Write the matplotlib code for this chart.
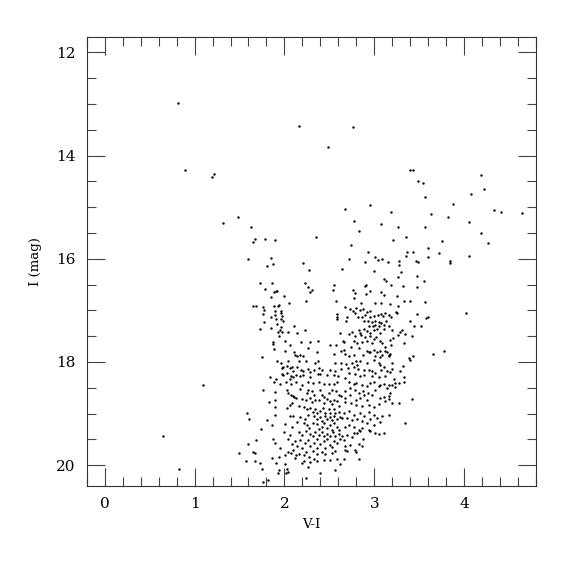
import numpy as np
import matplotlib
matplotlib.use("Agg")
import matplotlib.pyplot as plt
from matplotlib.ticker import MultipleLocator

# (V-I, I) pairs, grouped by region of the CMD
bright_and_outliers = [
    (0.82, 12.98), (0.89, 14.29), (1.19, 14.41), (1.22, 14.35), (1.32, 15.31), (1.48, 15.20),
    (1.63, 15.39), (1.65, 15.67), (1.67, 15.62), (1.78, 15.61), (1.90, 15.64), (1.60, 16.01),
    (2.16, 13.42), (2.76, 13.44), (2.48, 13.83), (2.35, 15.57), (1.09, 18.45), (0.65, 19.43),
    (0.83, 20.07), (1.85, 15.99), (1.87, 16.10), (1.81, 16.15), (2.21, 16.08), (2.27, 16.21),
    (2.64, 16.19),
]
upper_red = [
    (3.40, 14.29), (3.43, 14.28), (3.49, 14.49), (3.54, 14.54), (3.56, 14.81), (3.63, 15.13),
    (3.56, 15.38), (2.95, 14.95), (2.68, 15.04), (2.78, 15.26), (2.83, 15.46), (3.08, 15.33),
    (3.19, 15.09), (3.27, 15.38), (3.35, 15.57), (3.21, 15.64), (2.74, 15.74), (2.72, 16.00),
    (2.93, 15.87), (2.90, 16.07), (3.01, 15.97), (3.04, 16.03), (3.00, 16.23), (3.09, 16.01),
    (3.15, 16.07), (3.28, 16.05), (3.28, 16.12), (3.35, 15.94), (3.37, 15.87), (3.43, 15.86),
    (3.46, 16.05), (3.49, 16.06), (3.60, 15.80), (3.60, 15.96), (3.75, 15.66), (3.72, 15.89),
    (3.82, 15.20), (3.88, 14.93), (3.84, 16.05), (3.84, 16.08), (4.05, 15.28), (4.08, 14.75),
    (4.19, 14.37), (4.22, 14.65), (4.19, 15.50), (4.27, 15.69), (4.06, 15.94), (4.33, 15.06),
    (4.41, 15.09), (4.64, 15.11), (4.02, 17.06), (3.78, 17.78), (3.65, 17.85), (3.30, 16.26),
    (3.27, 16.35), (3.11, 16.40), (3.57, 16.84), (3.58, 17.15), (3.60, 17.13), (3.52, 17.31),
    (3.48, 16.33), (3.55, 16.44),
]
blue_branch = [
    (1.729, 16.47), (1.867, 16.47), (2.231, 16.47), (2.268, 16.55), (2.305, 16.60), (2.287, 16.65),
    (1.785, 16.59), (1.885, 16.65), (1.908, 16.63), (1.922, 16.63), (2.000, 16.73), (1.848, 16.74),
    (2.238, 16.81), (2.052, 16.86), (1.647, 16.92), (1.681, 16.91), (1.766, 16.94), (1.777, 17.00),
    (1.889, 16.91), (1.926, 16.92), (1.945, 16.90), (1.960, 17.01), (1.960, 17.05), (1.897, 17.02),
    (1.897, 17.09), (1.766, 17.07), (1.971, 17.10), (1.848, 17.12), (1.908, 17.16), (1.963, 17.16),
    (1.982, 17.20), (1.774, 17.23), (1.922, 17.27), (1.963, 17.32), (1.952, 17.38), (1.971, 17.41),
    (1.729, 17.36), (1.852, 17.34), (1.926, 17.41), (2.045, 17.41), (2.108, 17.31), (2.138, 17.43),
    (2.224, 17.38), (1.945, 17.50), (2.008, 17.59), (1.870, 17.61), (1.878, 17.65), (1.885, 17.74),
    (2.064, 17.67), (2.183, 17.61), (2.287, 17.61), (2.372, 17.60), (2.012, 17.78), (2.108, 17.81),
    (2.119, 17.86), (2.138, 17.88), (2.168, 17.86), (2.268, 17.73), (2.361, 17.80), (1.755, 17.90),
    (2.212, 17.89), (2.242, 17.98), (1.922, 17.98), (1.960, 18.01), (2.045, 17.99), (2.157, 17.99),
    (2.335, 18.02), (2.369, 17.99), (1.989, 18.10), (1.971, 18.11), (2.026, 18.07), (2.064, 18.12),
    (2.093, 18.18), (2.082, 18.10), (2.145, 18.10), (2.183, 18.15), (2.212, 18.18), (2.257, 18.14),
    (2.287, 18.20), (2.324, 18.16), (2.387, 18.12), (1.971, 18.23), (1.982, 18.25), (2.026, 18.21),
    (2.071, 18.28), (2.101, 18.29), (1.908, 18.32), (1.841, 18.30), (2.064, 18.32), (2.212, 18.25),
    (2.287, 18.29), (2.369, 18.23), (2.131, 18.25), (2.175, 18.27),
]
red_giant_branch = [
    (2.547, 16.50), (2.536, 16.60), (2.892, 16.52), (2.907, 16.51), (3.134, 16.43), (3.186, 16.50),
    (3.316, 16.52), (3.476, 16.54), (2.759, 16.61), (2.788, 16.67), (2.911, 16.68), (3.078, 16.65),
    (3.104, 16.70), (2.948, 16.63), (2.576, 16.81), (3.253, 16.72), (3.327, 16.81), (3.402, 16.81),
    (2.770, 16.76), (3.011, 16.86), (3.075, 16.85), (3.171, 16.87), (3.260, 16.91), (2.677, 16.94),
    (2.733, 16.98), (2.762, 17.02), (2.799, 16.96), (2.837, 17.00), (2.874, 16.98), (2.852, 16.85),
    (2.900, 17.09), (2.918, 17.03), (2.956, 17.02), (2.788, 17.05), (2.814, 17.12), (2.863, 17.13),
    (2.591, 17.07), (2.584, 17.13), (2.584, 17.17), (2.695, 17.13), (2.688, 17.20), (2.956, 17.13),
    (2.993, 17.10), (3.037, 17.09), (3.078, 17.07), (3.097, 17.10), (3.123, 17.05), (3.160, 17.09),
    (3.186, 17.13), (3.246, 17.04), (3.253, 17.05), (3.476, 17.07), (3.402, 17.20), (2.881, 17.21),
    (2.926, 17.20), (2.974, 17.23), (3.004, 17.21), (3.049, 17.23), (3.075, 17.25), (3.104, 17.28),
    (3.134, 17.20), (2.937, 17.31), (2.985, 17.30), (3.011, 17.28), (3.049, 17.31), (3.030, 17.36),
    (2.826, 17.38), (2.844, 17.43), (2.881, 17.36), (2.918, 17.39), (2.948, 17.43), (2.993, 17.38),
    (3.060, 17.44), (3.112, 17.36), (3.160, 17.31), (3.197, 17.38), (3.290, 17.41), (3.309, 17.38),
    (3.346, 17.45), (3.420, 17.49), (3.446, 17.31), (2.621, 17.43), (2.714, 17.45), (2.751, 17.41),
    (2.781, 17.50), (2.855, 17.47), (2.900, 17.52), (2.956, 17.50), (2.993, 17.56), (3.023, 17.52),
    (3.067, 17.60), (3.086, 17.63), (3.179, 17.57), (3.208, 17.54), (3.260, 17.47), (2.651, 17.60),
    (2.666, 17.62), (2.770, 17.60), (2.807, 17.63), (2.863, 17.62), (2.918, 17.60), (2.974, 17.63),
    (3.123, 17.70), (3.190, 17.67), (3.327, 17.63), (2.510, 17.67), (2.576, 17.67), (2.628, 17.78),
    (2.666, 17.76), (2.740, 17.70), (2.826, 17.73), (2.918, 17.78), (2.937, 17.81), (2.956, 17.80),
    (2.993, 17.76), (3.030, 17.81), (3.067, 17.78), (3.123, 17.78), (3.142, 17.81), (3.160, 17.86),
    (3.179, 17.84), (3.383, 17.92), (3.394, 17.96), (3.432, 17.89), (2.547, 17.84), (2.677, 17.84),
    (2.714, 17.88), (2.770, 17.86), (2.874, 17.86), (3.011, 17.88), (3.067, 17.90), (3.086, 17.86),
    (3.160, 17.89), (2.565, 18.01), (2.632, 18.02), (2.688, 18.03), (2.751, 18.01), (2.799, 17.98),
    (2.807, 18.05), (2.837, 17.99), (2.918, 18.01), (2.993, 17.97), (3.049, 18.02), (3.067, 18.05),
    (3.112, 18.09), (3.197, 18.01), (3.197, 18.14), (3.320, 18.07), (2.417, 18.15), (2.510, 18.16),
    (2.565, 18.18), (2.628, 18.14), (2.703, 18.12), (2.770, 18.10), (2.814, 18.14), (2.881, 18.15),
    (2.937, 18.15), (2.974, 18.18), (3.011, 18.21), (3.078, 18.15), (3.142, 18.18), (3.179, 18.20),
    (3.290, 18.18), (2.398, 18.23), (2.472, 18.25), (2.547, 18.25), (2.602, 18.28), (2.677, 18.31),
    (2.714, 18.21), (2.788, 18.23), (2.844, 18.28), (2.881, 18.25), (2.974, 18.28), (3.049, 18.29),
    (3.123, 18.27), (3.216, 18.33), (3.327, 18.29),
]
faint_blue_edge = [
    (1.766, 18.54), (1.833, 18.78), (1.580, 18.98), (1.610, 19.10), (1.811, 19.13), (1.737, 19.30),
    (1.684, 19.51), (1.592, 19.58), (1.655, 19.75), (1.673, 19.76), (1.495, 19.76), (1.573, 19.92),
    (1.673, 19.91), (1.729, 19.96), (1.755, 20.07), (1.759, 20.33), (1.822, 20.28),
]
faint_core = [
    (1.889, 18.39), (1.952, 18.42), (2.016, 18.38), (2.071, 18.42), (2.131, 18.39), (2.194, 18.44),
    (2.257, 18.38), (2.317, 18.41), (2.380, 18.39), (2.436, 18.42), (2.491, 18.42), (2.547, 18.42),
    (2.584, 18.39), (1.897, 18.59), (2.027, 18.54), (2.045, 18.61), (2.071, 18.63), (2.094, 18.65),
    (2.109, 18.67), (2.131, 18.70), (2.175, 18.52), (2.250, 18.61), (2.268, 18.54), (2.306, 18.57),
    (2.324, 18.63), (2.391, 18.55), (2.417, 18.63), (2.436, 18.67), (2.491, 18.60), (2.528, 18.54),
    (2.577, 18.57), (2.603, 18.63), (1.897, 18.73), (2.064, 18.83), (2.083, 18.79), (2.194, 18.72),
    (2.242, 18.74), (2.287, 18.70), (2.306, 18.78), (2.343, 18.73), (2.380, 18.74), (2.436, 18.79),
    (2.473, 18.72), (2.502, 18.76), (2.528, 18.81), (2.547, 18.73), (2.584, 18.76), (2.603, 18.85),
    (1.897, 18.87), (2.027, 18.89), (2.157, 18.86), (2.213, 18.87), (2.250, 18.92), (2.287, 18.89),
    (2.317, 18.96), (2.343, 18.91), (2.361, 18.99), (2.398, 18.94), (2.428, 18.89), (2.454, 18.98),
    (2.491, 18.92), (2.510, 18.99), (2.547, 18.91), (2.566, 18.98), (2.603, 18.96), (1.897, 19.02),
    (2.057, 19.05), (2.101, 19.04), (2.175, 19.07), (2.231, 19.10), (2.268, 19.02), (2.324, 19.05),
    (2.361, 19.10), (2.398, 19.07), (2.417, 19.15), (2.454, 19.04), (2.473, 19.10), (2.502, 19.07),
    (2.528, 19.13), (2.554, 19.04), (2.584, 19.10), (2.614, 19.07), (1.860, 19.23), (2.008, 19.21),
    (2.083, 19.25), (2.138, 19.17), (2.213, 19.19), (2.250, 19.23), (2.279, 19.28), (2.317, 19.19),
    (2.361, 19.21), (2.380, 19.30), (2.417, 19.25), (2.436, 19.19), (2.473, 19.28), (2.502, 19.23),
    (2.528, 19.31), (2.554, 19.19), (2.584, 19.25), (2.603, 19.31), (1.990, 19.36), (2.064, 19.41),
    (2.157, 19.36), (2.194, 19.41), (2.242, 19.34), (2.287, 19.39), (2.317, 19.44), (2.343, 19.36),
    (2.380, 19.41), (2.417, 19.36), (2.443, 19.44), (2.473, 19.39), (2.510, 19.43), (2.540, 19.36),
    (2.566, 19.44), (2.603, 19.39), (1.878, 19.50), (1.897, 19.57), (2.045, 19.50), (2.083, 19.58),
    (2.120, 19.54), (2.175, 19.52), (2.231, 19.57), (2.268, 19.52), (2.324, 19.56), (2.361, 19.50),
    (2.398, 19.58), (2.436, 19.54), (2.473, 19.50), (2.502, 19.60), (2.547, 19.54), (2.584, 19.57),
    (2.614, 19.50), (1.952, 19.67), (2.138, 19.63), (2.194, 19.67), (2.287, 19.63), (2.361, 19.67),
    (2.454, 19.67), (2.528, 19.65), (1.860, 19.86), (1.945, 19.84), (2.008, 19.81), (2.045, 19.75),
    (2.071, 19.76), (2.101, 19.71), (2.131, 19.80), (2.157, 19.78), (2.213, 19.80), (2.242, 19.75),
    (2.279, 19.84), (2.317, 19.73), (2.361, 19.78), (2.417, 19.75), (2.454, 19.78), (2.528, 19.76),
    (2.566, 19.73), (1.908, 19.96), (2.008, 19.97), (2.120, 19.86), (2.213, 19.92), (2.194, 19.96),
    (2.287, 19.94), (2.324, 19.88), (2.361, 19.92), (2.436, 19.89), (2.510, 19.89), (2.584, 19.88),
    (2.614, 19.97), (1.945, 20.09), (1.923, 20.15), (2.027, 20.07), (2.019, 20.15), (2.045, 20.14),
    (2.268, 20.03), (2.391, 20.15), (2.566, 20.10), (2.242, 20.25),
]
faint_red = [
    (2.714, 18.38), (2.770, 18.42), (2.799, 18.40), (2.863, 18.44), (2.918, 18.46), (2.956, 18.41),
    (2.993, 18.38), (3.067, 18.44), (3.112, 18.42), (3.160, 18.44), (3.197, 18.44), (3.234, 18.40),
    (3.272, 18.41), (3.327, 18.38), (2.677, 18.57), (2.733, 18.51), (2.788, 18.54), (2.826, 18.60),
    (2.874, 18.57), (2.926, 18.60), (2.974, 18.63), (3.011, 18.54), (3.049, 18.47), (3.142, 18.51),
    (3.179, 18.60), (3.234, 18.49), (2.628, 18.65), (2.677, 18.70), (2.733, 18.63), (2.799, 18.73),
    (2.844, 18.70), (2.881, 18.63), (2.918, 18.74), (3.067, 18.70), (3.104, 18.68), (3.160, 18.72),
    (3.197, 18.80), (3.272, 18.80), (3.420, 18.72), (2.677, 18.78), (2.740, 18.80), (2.799, 18.83),
    (2.863, 18.85), (2.937, 18.83), (3.000, 18.87), (3.049, 18.81), (3.123, 18.76), (2.658, 18.99),
    (2.714, 18.94), (2.770, 19.02), (2.844, 18.99), (2.881, 19.04), (2.937, 18.96), (2.993, 19.02),
    (3.030, 19.09), (3.086, 19.05), (3.160, 19.02), (2.640, 19.09), (2.695, 19.09), (2.751, 19.12),
    (2.807, 19.11), (2.863, 19.15), (2.918, 19.18), (2.956, 19.11), (2.993, 19.22), (3.067, 19.17),
    (2.677, 19.26), (2.714, 19.22), (2.770, 19.25), (2.826, 19.31), (2.863, 19.28), (2.937, 19.31),
    (3.049, 19.39), (3.346, 19.18), (2.640, 19.44), (2.666, 19.51), (2.695, 19.41), (2.751, 19.45),
    (2.770, 19.38), (2.807, 19.38), (2.844, 19.33), (2.874, 19.49), (2.956, 19.34), (3.011, 19.38),
    (2.677, 19.63), (2.733, 19.60), (2.788, 19.70), (2.826, 19.58), (2.863, 19.62), (2.695, 19.73),
    (2.677, 19.71), (2.658, 19.88), (2.826, 19.88), (2.799, 19.75), (3.160, 18.65), (3.104, 19.38),
]

x_ticks = [0, 1, 2, 3, 4]
y_ticks = [12, 14, 16, 18, 20]

all_stars = np.array(bright_and_outliers + upper_red + blue_branch + red_giant_branch
                     + faint_blue_edge + faint_core + faint_red)

plt.rcParams['font.family'] = ['DejaVu Serif']
fig = plt.figure(figsize=(5.75, 5.75), dpi=100)
ax = fig.add_axes([0.151, 0.155, 0.781, 0.781])
ax.scatter(all_stars[:, 0], all_stars[:, 1], s=3.0, c='black', marker='o', linewidths=0)

ax.set_xlim(-0.2, 4.8)
ax.set_ylim(20.4, 11.7)
ax.set_xticks(x_ticks)
ax.set_yticks(y_ticks)
ax.xaxis.set_minor_locator(MultipleLocator(0.2))
ax.yaxis.set_minor_locator(MultipleLocator(0.5))
ax.tick_params(which='both', direction='in', top=True, right=True, color='#444444', width=0.8)
ax.tick_params(which='major', length=13, labelsize=11, pad=8)
ax.tick_params(which='minor', length=6.5)
for sp in ax.spines.values():
    sp.set_linewidth(0.8)
    sp.set_color('#333333')
ax.set_xlabel('V-I', fontsize=9.5, labelpad=5)
ax.set_ylabel('I (mag)', fontsize=9.5, labelpad=10)

fig.savefig('out.png', dpi=100)
